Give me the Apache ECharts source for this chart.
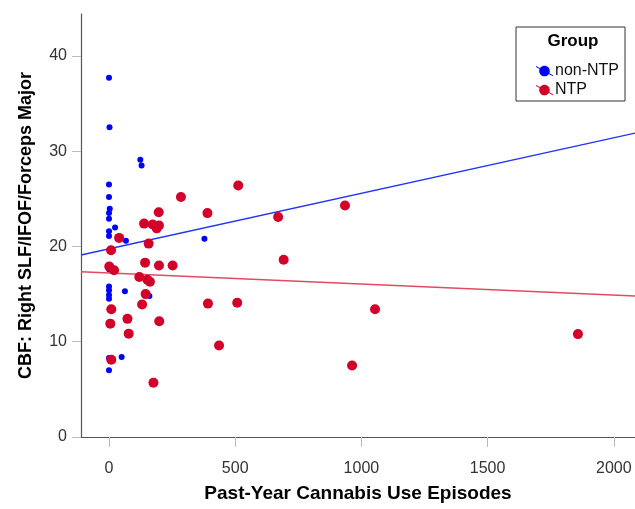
<!DOCTYPE html>
<html><head><meta charset="utf-8">
<script src="https://cdn.jsdelivr.net/npm/echarts@6/dist/echarts.min.js"></script>
<style>html,body{margin:0;padding:0;background:#fff}#c{width:635px;height:509px}</style>
</head><body><div id="c"></div>
<script>
// non-NTP group: [episodes, CBF]
const nonNTP = [
  [0,37.7],[2,32.5],[124,29.1],[129,28.5],[0,26.5],[0,25.2],[3,23.95],[0,23.5],[0,22.9],
  [24,22.0],[0,21.6],[0,21.1],[67,20.6],[378,20.8],[0,17.6],[0,15.8],[0,15.4],[0,14.9],
  [0,14.5],[63,15.3],[160,14.8],[0,8.3],[50,8.4],[0,7.0]
];
// NTP group: [episodes, CBF]
const NTP = [
  [512,26.4],[285,25.2],[197,23.6],[390,23.5],[139,22.4],[173,22.3],[198,22.2],[189,21.9],
  [40,20.9],[157,20.3],[8,19.6],[670,23.1],[935,24.3],[692,18.6],[392,14.0],[508,14.1],
  [1054,13.4],[436,9.6],[963,7.5],[1858,10.8],[143,18.3],[198,18.0],[252,18.0],[1,17.9],
  [20,17.5],[120,16.8],[152,16.5],[162,16.3],[145,15.0],[131,13.9],[9,13.4],[73,12.4],
  [5,11.9],[199,12.15],[78,10.85],[9,8.1],[176,5.7]
];
// fit lines (endpoints at axis extents)
const fitNonNTP = [[-111,19.1],[2084,31.9]];
const fitNTP = [[-111,17.35],[2084,14.8]];
const xTicks = [0,500,1000,1500,2000];
const yTicks = [0,10,20,30,40];

const iconPath = 'path://M13,8C13,10.76 10.76,13 8,13C5.24,13 3,10.76 3,8C3,5.24 5.24,3 8,3C10.76,3 13,5.24 13,8Z M0,3.4L16,12.1L16,13.1L0,4.4Z';

const chart = echarts.init(document.getElementById('c'));
chart.setOption({
  animation:false,
  textStyle:{fontFamily:'Liberation Sans, Arial, sans-serif'},
  grid:{left:81,top:14,right:0,bottom:72},
  xAxis:{
    type:'value',min:-111,max:2084,
    name:'Past-Year Cannabis Use Episodes',nameLocation:'middle',nameGap:47,
    nameTextStyle:{fontSize:19,fontWeight:'bold',color:'#000'},
    axisLine:{onZero:false,lineStyle:{color:'#555',width:1.2}},
    axisTick:{show:true,length:10,customValues:xTicks,lineStyle:{color:'#bbb'}},
    axisLabel:{customValues:xTicks,fontSize:16,color:'#333',margin:24,formatter:v=>String(v)},
    splitLine:{show:false}
  },
  yAxis:{
    type:'value',min:0,max:44.4,
    name:'CBF: Right SLF/IFOF/Forceps Major',nameLocation:'middle',nameGap:46,
    nameTextStyle:{fontSize:18,fontWeight:'bold',color:'#000'},
    axisLine:{show:true,onZero:false,lineStyle:{color:'#555',width:1.2}},
    axisTick:{show:true,length:9,customValues:yTicks,lineStyle:{color:'#bbb'}},
    axisLabel:{customValues:yTicks,fontSize:16,color:'#333',margin:14,formatter:v=>String(v)},
    splitLine:{show:false}
  },
  legend:{
    left:531,top:58,orient:'vertical',itemWidth:17,itemHeight:15,itemGap:3,
    textStyle:{fontSize:16,color:'#111',padding:[0,0,0,-3]},
    data:[
      {name:'non-NTP',icon:iconPath,itemStyle:{color:'#0000ff'}},
      {name:'NTP',icon:iconPath,itemStyle:{color:'#d3002a'}}
    ]
  },
  graphic:[
    {type:'rect',shape:{x:516,y:27,width:109,height:74},style:{fill:'#fff',stroke:'#333',lineWidth:1},z:-1},
    {type:'text',x:573,y:41,style:{text:'Group',font:'bold 17px Liberation Sans, Arial, sans-serif',fill:'#000',textAlign:'center',textVerticalAlign:'middle'},z:10}
  ],
  series:[
    {name:'fit non-NTP',type:'line',data:fitNonNTP,symbol:'none',lineStyle:{color:'#2233ff',width:1.4},z:1,silent:true},
    {name:'fit NTP',type:'line',data:fitNTP,symbol:'none',lineStyle:{color:'#e34a62',width:1.4},z:1,silent:true},
    {name:'non-NTP',type:'scatter',data:nonNTP,symbolSize:6,itemStyle:{color:'#0000ff',opacity:1},z:3},
    {name:'NTP',type:'scatter',data:NTP,symbolSize:10,itemStyle:{color:'#d3002a',opacity:1},z:4}
  ]
});
</script></body></html>
